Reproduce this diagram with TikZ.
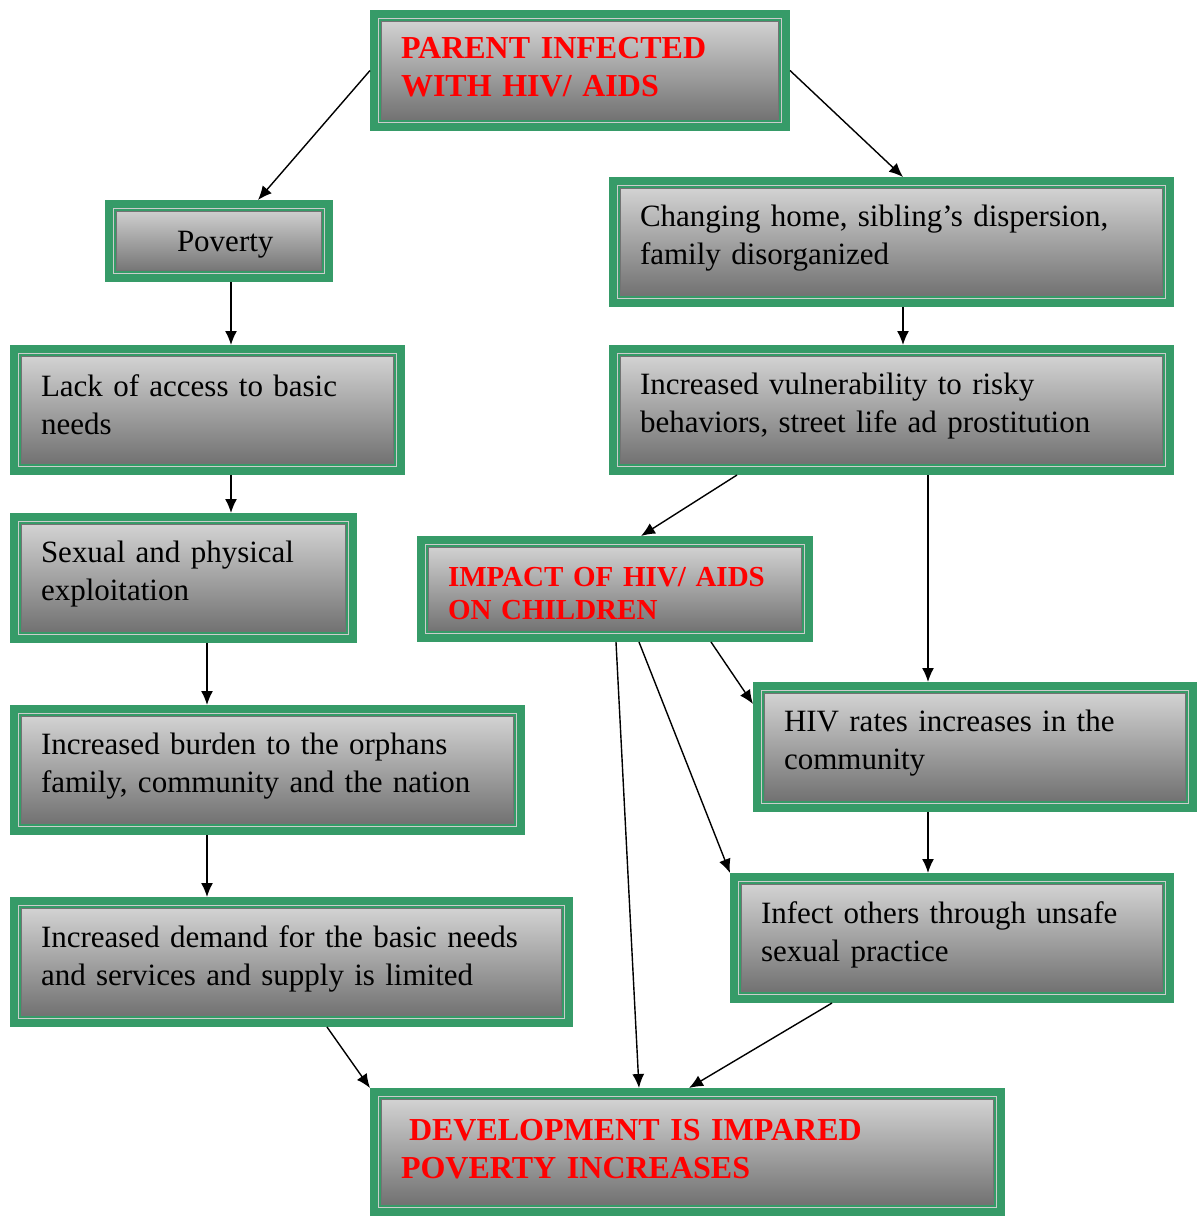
\documentclass[tikz,border=0pt]{standalone}
\usepackage{fontspec}
\setmainfont{Liberation Serif}
\usetikzlibrary{arrows.meta}
\definecolor{boxgreen}{RGB}{54,155,104}
\definecolor{boxred}{RGB}{255,0,0}
\tikzset{
  lift/.store in=\boxlift,
  flowbox/.style={draw=boxgreen,line width=8pt,top color=black!15,bottom color=black!58,
    anchor=north west,inner xsep=27pt,inner ysep=0pt,align=left,
    font=\fontsize{31pt}{38pt}\selectfont,lift=7pt,
    execute at end node={\par\vspace*{\boxlift}},
    path picture={
      \draw[black!20,line width=1pt]([shift={(4.5pt,-4.5pt)}]path picture bounding box.north west) rectangle ([shift={(-4.5pt,4.5pt)}]path picture bounding box.south east);
      \draw[boxgreen,line width=2pt]([shift={(6pt,-6pt)}]path picture bounding box.north west) rectangle ([shift={(-6pt,6pt)}]path picture bounding box.south east);
      \draw[black!55,line width=1pt]([shift={(7.5pt,-7.5pt)}]path picture bounding box.north west) rectangle ([shift={(-7.5pt,7.5pt)}]path picture bounding box.south east);
    }},
  redtext/.style={text=boxred,font=\fontsize{32pt}{38pt}\selectfont\bfseries},
  link/.style={black,line width=1.4pt,-{Latex[length=14pt,width=12pt]}}
}
\begin{document}
\begin{tikzpicture}[x=1pt,y=1pt]
\useasboundingbox (0,0) rectangle (1202,-1216);
%boxes
\node[flowbox,redtext,lift=6pt,text width=358pt,minimum height=113pt] (parent) at (370,-10) {\mbox{PARENT INFECTED}\\\mbox{WITH HIV/ AIDS}};
\node[flowbox,lift=-10pt,text width=166pt,minimum height=74pt] (poverty) at (105,-200) {\hspace*{41pt}Poverty};
\node[flowbox,lift=8pt,text width=503pt,minimum height=122pt] (changing) at (609,-177) {Changing home, sibling’s dispersion,\\family disorganized};
\node[flowbox,lift=10pt,text width=333pt,minimum height=122pt] (lack) at (10,-345) {Lack of access to basic\\needs};
\node[flowbox,text width=503pt,minimum height=122pt] (vuln) at (609,-345) {Increased vulnerability to risky\\behaviors, street life ad prostitution};
\node[flowbox,text width=285pt,minimum height=122pt] (sexual) at (10,-513) {Sexual and physical\\exploitation};
\node[flowbox,redtext,lift=-10pt,font=\fontsize{29pt}{33pt}\selectfont\bfseries,text width=334pt,minimum height=98pt] (impact) at (417,-536) {\mbox{IMPACT OF HIV/ AIDS}\\\mbox{ON CHILDREN}};
\node[flowbox,text width=382pt,minimum height=122pt] (hivrate) at (753,-682) {HIV rates increases in the\\community};
\node[flowbox,text width=453pt,minimum height=122pt] (burden) at (10,-705) {Increased burden to the orphans\\family, community and the nation};
\node[flowbox,text width=382pt,minimum height=122pt] (infect) at (730,-873) {Infect others through unsafe\\sexual practice};
\node[flowbox,text width=501pt,minimum height=122pt] (demand) at (10,-897) {Increased demand for the basic needs\\and services and supply is limited};
\node[flowbox,redtext,lift=6pt,text width=573pt,minimum height=120pt] (develop) at (370,-1088) {\mbox{\hspace*{0.25em}DEVELOPMENT IS IMPARED}\\\mbox{POVERTY INCREASES}};
%left branch
\draw[link](parent.west)--([xshift=39pt]poverty.north);
\draw[link]([xshift=12pt]poverty.south)--([xshift=23.5pt]lack.north);
\draw[link]([xshift=23.5pt]lack.south)--([xshift=47.5pt]sexual.north);
\draw[link]([xshift=23.5pt]sexual.south)--([xshift=-60.5pt]burden.north);
\draw[link]([xshift=-60.5pt]burden.south)--([xshift=-84.5pt]demand.north);
\draw[link]([xshift=35.5pt]demand.south)--(develop.north west);
%right branch
\draw[link](parent.east)--([xshift=11.5pt]changing.north);
\draw[link]([xshift=11.5pt]changing.south)--([xshift=11.5pt]vuln.north);
\draw[link]([xshift=-154.5pt]vuln.south)--([xshift=26pt]impact.north);
\draw[link]([xshift=36.5pt]vuln.south)--([xshift=-47pt]hivrate.north);
\draw[link]([xshift=96pt]impact.south)--([yshift=-22pt]hivrate.north west);
\draw[link]([xshift=24pt]impact.south)--(infect.north west);
\draw[link]([xshift=1pt]impact.south)--([xshift=-48.5pt]develop.north);
\draw[link]([xshift=-47pt]hivrate.south)--([xshift=-24pt]infect.north);
\draw[link]([xshift=-120pt]infect.south)--([xshift=1.5pt]develop.north);
\end{tikzpicture}
\end{document}
